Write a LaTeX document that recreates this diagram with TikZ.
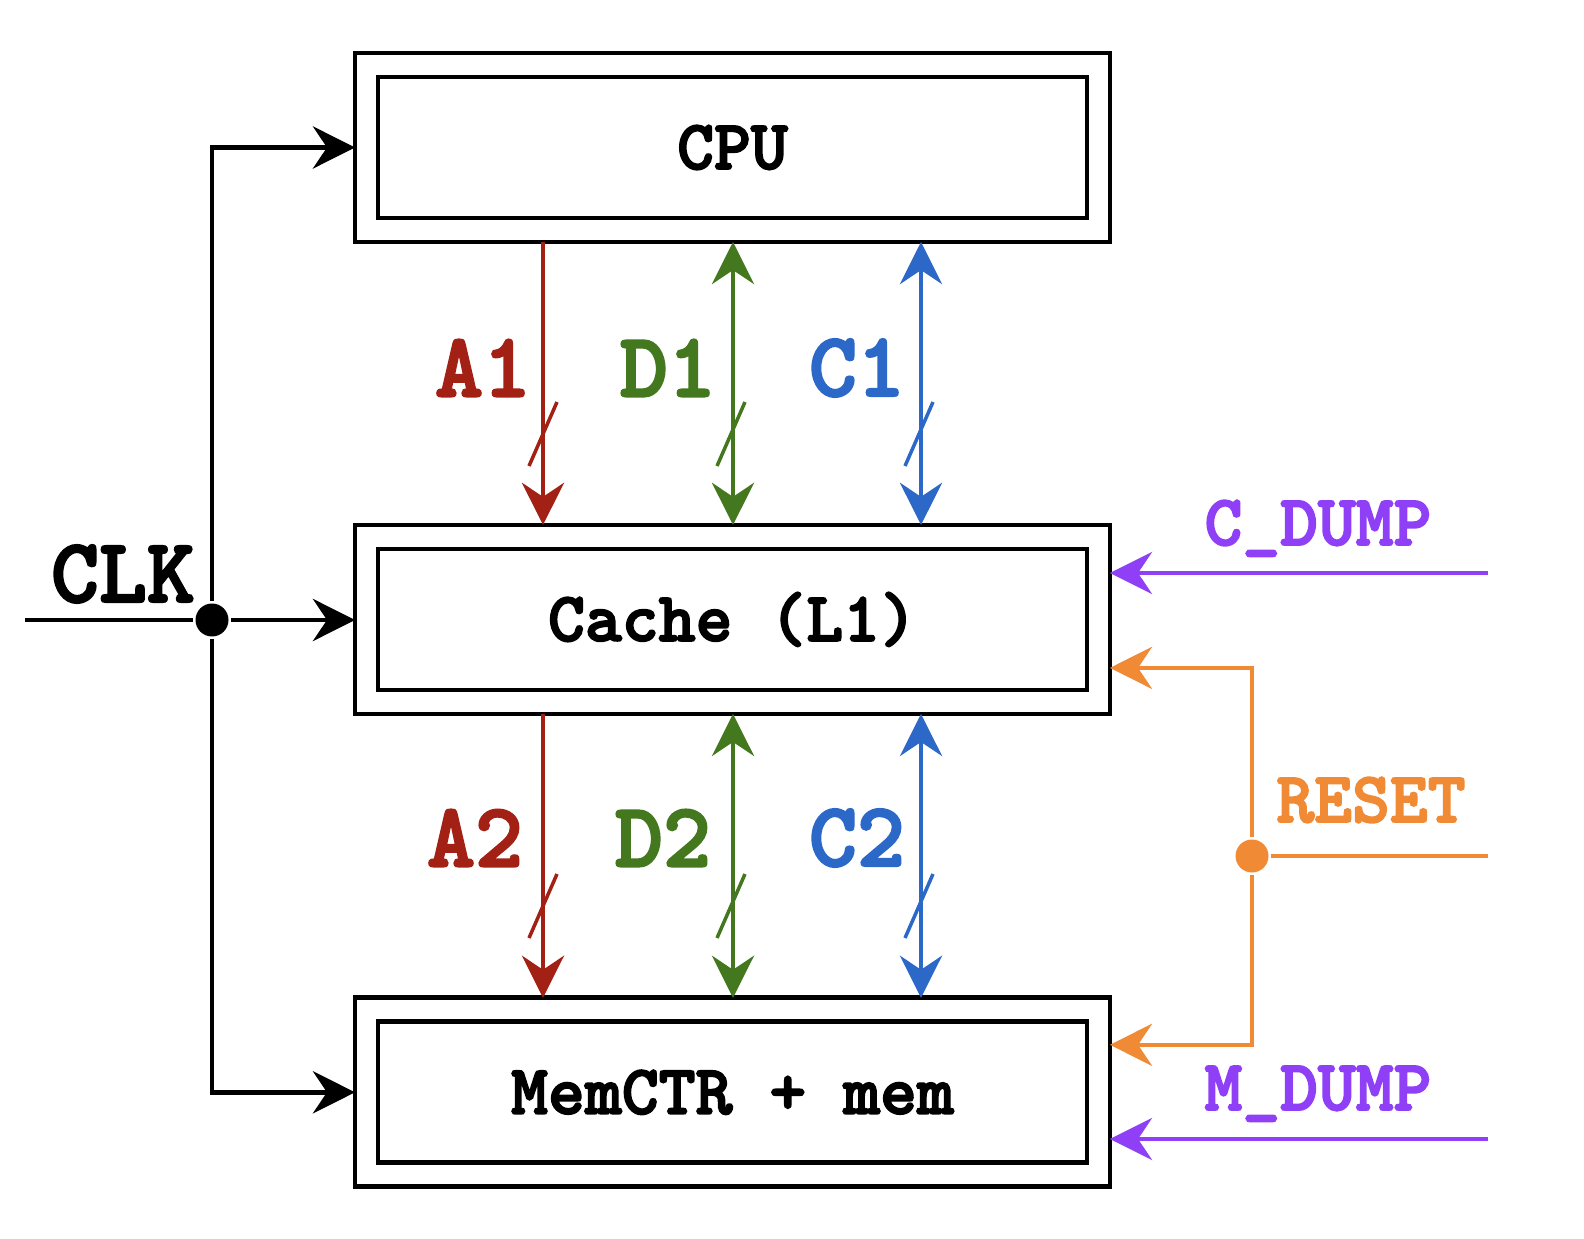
\documentclass[tikz,border=0pt]{standalone}
\usepackage{fontspec}
\newfontfamily\codefont{lmmonolt10-bold}[Extension=.otf, FakeBold=2.5]
\usetikzlibrary{positioning, calc, arrows.meta}

\definecolor{addrred}{HTML}{A32015}
\definecolor{datagreen}{HTML}{44781E}
\definecolor{ctrlblue}{HTML}{2B68C8}
\definecolor{dumppurple}{HTML}{8F3FF5}
\definecolor{resetorange}{HTML}{F08A35}

\begin{document}
\begin{tikzpicture}[x=0.02cm, y=-0.02cm, line width=2.7pt,
		>={Stealth[length=24pt, width=24pt, inset=8pt]},
		outerbox/.style={draw, minimum width=15.1cm, minimum height=3.78cm, outer sep=0, inner sep=0},
		innerbox/.style={draw, minimum width=14.18cm, minimum height=2.82cm, outer sep=0,
			font=\codefont\fontsize{40}{44}\selectfont},
		busname/.style={inner sep=0, font=\codefont\fontsize{52}{56}\selectfont},
		signame/.style={inner sep=0, font=\codefont\fontsize{41}{44}\selectfont},
		dot/.style={circle, fill, minimum size=0.66cm, inner sep=0},
		bus/.style={line width=2pt}]

			\useasboundingbox (0,0) rectangle (1584,1239);

			% Blocks
			\node (cpu) [outerbox] at (732.5,147.5) {};
			\node (cache) [outerbox, below=5.66cm of cpu] {};
			\node (mem) [outerbox, below=5.68cm of cache] {};
			\node (cpuin) [innerbox] at (cpu) {CPU};
			\node (cachein) [innerbox] at (cache) {Cache (L1)};
			\node (memin) [innerbox] at (mem) {MemCTR + mem};

			% Bus columns
			\coordinate (xa) at (543,0);
			\coordinate (xd) at (733,0);
			\coordinate (xc) at (921,0);

			% Buses CPU <-> cache
			\draw[->, bus, addrred] (cpu.south -| xa) -- (cache.north -| xa);
			\draw[<->, bus, datagreen] (cpu.south -| xd) -- (cache.north -| xd);
			\draw[<->, bus, ctrlblue] (cpu.south -| xc) -- (cache.north -| xc);
			\node (a1) [busname, addrred] at (483,368) {A1};
			\node (d1) [busname, datagreen] at (668,368) {D1};
			\node (c1) [busname, ctrlblue] at (857,368) {C1};

			% Buses cache <-> memory
			\draw[->, bus, addrred] (cache.south -| xa) -- (mem.north -| xa);
			\draw[<->, bus, datagreen] (cache.south -| xd) -- (mem.north -| xd);
			\draw[<->, bus, ctrlblue] (cache.south -| xc) -- (mem.north -| xc);
			\node (a2) [busname, addrred] at (475,838) {A2};
			\node (d2) [busname, datagreen] at (663,838) {D2};
			\node (c2) [busname, ctrlblue] at (857,838) {C2};

			% Bus width slashes
			\foreach \y in {434, 906} {
				\draw[bus, addrred] (543,\y) ++(-14,32) -- ++(28,-64);
				\draw[bus, datagreen] (731,\y) ++(-14,32) -- ++(28,-64);
				\draw[bus, ctrlblue] (919,\y) ++(-14,32) -- ++(28,-64);
			}

			% Clock
			\coordinate (clkin) at (25,620);
			\node (clkdot) [dot] at (212,620) {};
			\node (clk) [busname] at (123,574) {CLK};
			\draw (clkin) -- (clkdot);
			\draw[->] (clkdot) -- (clkdot -| cache.west);
			\draw[->] (clkdot) |- (cpu.west);
			\draw[->] (clkdot) |- (mem.west);

			% Dump and reset inputs
			\coordinate (cdin) at (1488,573);
			\draw[->, bus, dumppurple] (cdin) -- (cdin -| cache.east);
			\node (cdump) [signame, dumppurple, anchor=base] at (1318,545) {C\_DUMP};

			\coordinate (rstin) at (1488,856);
			\node (rstdot) [dot, resetorange] at (1252,856) {};
			\node (rst) [signame, resetorange] at (1371,800) {RESET};
			\draw[bus, resetorange] (rstin) -- (rstdot);
			\draw[->, bus, resetorange] (rstdot) |- ($(cache.east)+(0,48.5)$);
			\draw[->, bus, resetorange] (rstdot) |- ($(mem.east)+(0,-47.5)$);

			\coordinate (mdin) at (1488,1139);
			\draw[->, bus, dumppurple] (mdin) -- (mdin -| mem.east);
			\node (mdump) [signame, dumppurple, anchor=base] at (1318,1110) {M\_DUMP};

		\end{tikzpicture}
\end{document}
